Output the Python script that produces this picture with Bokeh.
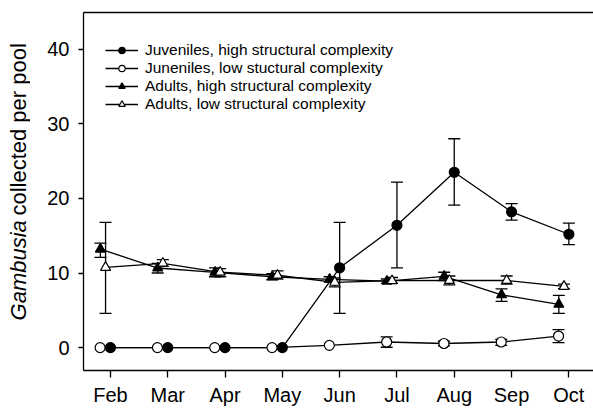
import math
from bokeh.plotting import figure
from bokeh.layouts import row
from bokeh.models import (ColumnDataSource, Whisker, TeeHead, Legend, LegendItem,
                          FixedTicker, LinearAxis)
from bokeh.core.properties import value
from bokeh.embed import file_html
from bokeh.resources import INLINE

months = ["Feb", "Mar", "Apr", "May", "Jun", "Jul", "Aug", "Sep", "Oct"]

juv_high = [0, 0, 0, 0, 10.7, 16.4, 23.5, 18.2, 15.2]
juv_high_up = [None, None, None, None, 16.8, 22.2, 28.0, 19.3, 16.7]
juv_high_lo = [None, None, None, None, 4.6, 10.7, 19.1, 17.1, 13.8]

juv_low = [0, 0, 0, 0, 0.3, 0.75, 0.55, 0.75, 1.55]
juv_low_up = [None, None, None, None, None, 1.45, 0.85, 1.1, 2.4]
juv_low_lo = [None, None, None, None, None, 0.05, 0.25, 0.3, 0.67]

ad_high = [13.2, 10.67, 10.1, 9.5, 9.15, 8.9, 9.55, 7.07, 5.8]
ad_high_up = [14.0, 11.3, 10.7, 9.9, 9.5, 9.2, 10.1, 7.87, 7.0]
ad_high_lo = [12.1, 10.0, 9.5, 9.1, 8.8, 8.6, 9.0, 6.2, 4.6]

ad_low = [10.75, 11.3, 10.1, 9.7, 8.75, 8.97, 9.0, 9.0, 8.2]
ad_low_up = [16.8, 11.8, 10.6, 10.3, 9.33, 9.4, 9.6, 9.6, 8.5]
ad_low_lo = [4.6, 10.9, 9.5, 9.2, 8.13, 8.6, 8.4, 8.5, 7.9]

labels = ["Juveniles, high structural complexity",
          "Juneniles, low stuctural complexity",
          "Adults, high structural complexity",
          "Adults, low structural complexity"]

ylabel_italic = "Gambusia"
ylabel_rest = "collected per pool"

FONT = "Liberation Sans"
Y_RANGE = (-3.07, 44.93)
TOP, BOTTOM, H = 12, 36, 408

p = figure(width=563, height=H, output_backend="svg", toolbar_location=None,
           x_range=(-0.47, 8.43), y_range=Y_RANGE,
           min_border_left=53, min_border_right=0, min_border_top=TOP,
           min_border_bottom=BOTTOM)
p.outline_line_color = None
p.xgrid.visible = False
p.ygrid.visible = False

xa = p.xaxis[0]
xa.ticker = FixedTicker(ticks=list(range(len(months))))
xa.major_label_overrides = {i: m for i, m in enumerate(months)}
xa.minor_tick_line_color = None
xa.major_tick_in = 0
xa.major_tick_out = 7
xa.major_label_standoff = 6
xa.major_label_text_font = FONT
xa.major_label_text_font_size = "20px"
xa.major_label_text_color = "black"
xa.axis_line_color = "black"
xa.axis_line_width = 1.3
xa.major_tick_line_width = 1.3

ya = p.yaxis[0]
ya.ticker = FixedTicker(ticks=[0, 10, 20, 30, 40])
ya.minor_tick_line_color = None
ya.major_tick_in = 0
ya.major_tick_out = 5
ya.major_label_standoff = 9
ya.major_label_text_font = FONT
ya.major_label_text_font_size = "20px"
ya.major_label_text_color = "black"
ya.axis_line_color = "black"
ya.axis_line_width = 1.3
ya.major_tick_line_width = 1.3

top = LinearAxis(ticker=FixedTicker(ticks=[]), major_tick_line_color=None,
                 minor_tick_line_color=None, major_label_text_font_size="0px",
                 axis_line_color="black", axis_line_width=1.3)
p.add_layout(top, "above")

series = [
    (juv_high, juv_high_up, juv_high_lo, 0.0, "circle", "black"),
    (juv_low, juv_low_up, juv_low_lo, -0.18, "circle", "white"),
    (ad_high, ad_high_up, ad_high_lo, -0.175, "triangle", "black"),
    (ad_low, ad_low_up, ad_low_lo, -0.085, "triangle", "white"),
]

# vertical screen offsets (from frame bottom) of the four legend rows
legend_rows_y = [311, 293, 275, 257]

for k, ((vals, ups, los, off, marker, fill), lab) in enumerate(zip(series, labels)):
    xs = [i + off for i in range(len(vals))]
    src = ColumnDataSource(dict(x=xs, y=vals))
    wx = [x for x, u in zip(xs, ups) if u is not None]
    wu = [u for u in ups if u is not None]
    wl = [l for l in los if l is not None]
    if wx:
        wsrc = ColumnDataSource(dict(x=wx, upper=wu, lower=wl))
        w = Whisker(source=wsrc, base="x", upper="upper", lower="lower",
                    line_color="black", line_width=1.3, level="underlay",
                    upper_head=TeeHead(size=12, line_color="black", line_width=1.3),
                    lower_head=TeeHead(size=12, line_color="black", line_width=1.3))
        p.add_layout(w)
    ln = p.line("x", "y", source=src, line_color="black", line_width=1.3)
    sc = p.scatter("x", "y", source=src, marker=marker, size=10,
                   fill_color=fill, line_color="black", line_width=1.2)
    lg = Legend(items=[LegendItem(label=lab, renderers=[ln, sc])],
                location=(22, legend_rows_y[k]), border_line_color=None,
                background_fill_alpha=0, padding=0, margin=0, spacing=0,
                glyph_width=33, glyph_height=16, label_height=16,
                label_standoff=7, label_text_font=FONT,
                label_text_font_size="15.5px", label_text_color="black")
    p.add_layout(lg, "center")

# left strip holding the rotated y-axis title
q = figure(width=30, height=H, output_backend="svg", toolbar_location=None,
           x_range=(0, 1), y_range=Y_RANGE,
           min_border_left=0, min_border_right=0, min_border_top=TOP,
           min_border_bottom=BOTTOM)
q.axis.visible = False
q.grid.visible = False
q.outline_line_color = None
q.text(x=[0.6], y=[3.64], text=[ylabel_italic], angle=math.pi / 2,
       text_align="left", text_baseline="middle", text_font=value(FONT),
       text_font_size="22px", text_font_style="italic", text_color="black")
q.text(x=[0.6], y=[17.7], text=[ylabel_rest], angle=math.pi / 2,
       text_align="left", text_baseline="middle", text_font=value(FONT),
       text_font_size="22px", text_color="black")

layout = row(q, p)
open("out.html", "w").write(file_html(layout, INLINE))
